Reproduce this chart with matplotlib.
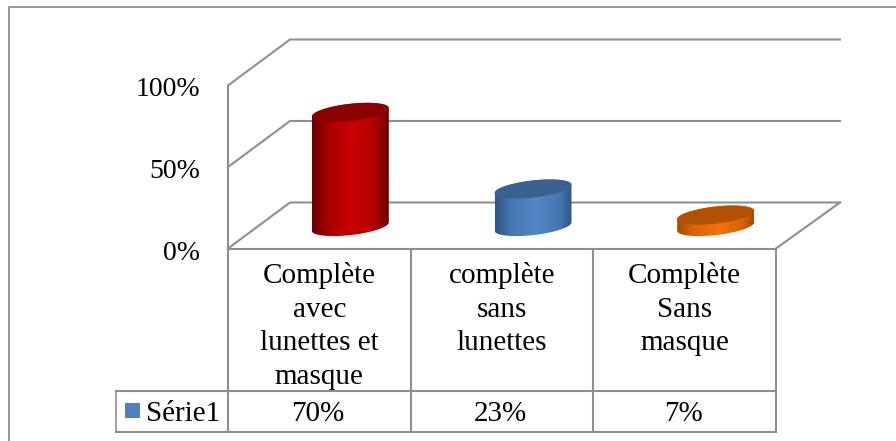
import matplotlib
matplotlib.use("Agg")
import matplotlib.pyplot as plt
import numpy as np
from matplotlib.patches import Polygon, Rectangle
from matplotlib.colors import LinearSegmentedColormap, to_rgb

plt.rcParams['font.family'] = ['Liberation Serif', 'DejaVu Serif']

categories = ["Complète\navec\nlunettes et\nmasque", "complète\nsans\nlunettes", "Complète\nSans\nmasque"]
values = [70, 23, 7]
value_labels = ["70%", "23%", "7%"]
yticks = [0, 50, 100]
ytick_labels = ["0%", "50%", "100%"]
series_name = "Série1"
# edge, centre, lid colours of each cylinder
shades = [("#660000", "#cc0000", "#8b0000"),
          ("#2c5684", "#5287c7", "#3b628f"),
          ("#a04c00", "#f57208", "#b25200")]

GRID = "#8f8f8f"
LW = 1.5
FS = 20
FS_TABLE = 21

fig = plt.figure(figsize=(8.96, 4.41), dpi=100)
ax = fig.add_axes([0, 0, 1, 1])  # axes in pixels, y downwards

# 3d box geometry
x0, x1 = 228, 776    # front floor edge
bx0, bx1 = 290, 840  # back floor edge
fy0, by0 = 248.5, 202.5
px_per_pct = 1.63
col_w = (x1 - x0) / len(values)


def line(xs, ys, lw=LW):
    ax.plot(xs, ys, color=GRID, lw=lw, solid_capstyle="projecting", zorder=1)


# outer frame
line([8.5, 8.5, 896], [441, 6.5, 6.5], 1.3)

# walls, floor and gridlines
for t in yticks:
    h = t * px_per_pct
    line([x0, bx0, bx1], [fy0 - h, by0 - h, by0 - h])
line([x0, x0], [fy0, fy0 - 100 * px_per_pct])
line([x1, bx1], [fy0, by0])

for t, lab in zip(yticks, ytick_labels):
    ax.text(200, fy0 + 11 - t * px_per_pct, lab, ha="right", va="baseline", fontsize=FS, color="black")


def ellipse(cx, cy, a=38.5, b=8.6, k=4.2):
    t = np.linspace(0, 2 * np.pi, 200, endpoint=False)
    return cx + a * np.cos(t), cy + b * np.sin(t) - k * np.cos(t)


def shade_map(name, edge, mid):
    e, m = np.array(to_rgb(edge)), np.array(to_rgb(mid))
    side = e + (m - e) * 0.65
    return LinearSegmentedColormap.from_list(name, [(0, e), (0.2, side), (0.55, m), (0.85, side), (1, e)])


# cylinders
base_y = 226.5
for i, (v, (edge, mid, lid)) in enumerate(zip(values, shades)):
    cx = x0 + col_w * (i + 0.5) + 31
    top_y = base_y - v * px_per_pct
    xb, yb = ellipse(cx, base_y)
    xt, yt = ellipse(cx, top_y)
    # body outline: lower half of the base, upper half of the lid
    n = len(xb) // 2
    body = np.vstack([np.column_stack([xb[:n + 1], yb[:n + 1]]),
                      np.column_stack([xt[n:], yt[n:]])])
    clip = Polygon(body, closed=True, transform=ax.transData, fc="none", ec="none")
    ax.add_patch(clip)
    grad = np.linspace(0, 1, 256).reshape(1, -1)
    im = ax.imshow(grad, cmap=shade_map("c%d" % i, edge, mid),
                   extent=[cx - 38.5, cx + 38.5, base_y + 15, top_y - 15],
                   aspect="auto", zorder=3, interpolation="bilinear")
    im.set_clip_path(clip)
    ax.fill(xt, yt, color=lid, lw=0, zorder=4)

# data table
ty0, ty1, ty2 = 249, 390.5, 432
lx = 115.5
line([x0, x0], [ty0, ty2])
line([x0, x1], [ty0, ty0])
line([lx, x1], [ty1, ty1])
line([lx, x1], [ty2, ty2])
line([lx, lx], [ty1, ty2], 1.2)
for i in range(1, len(values) + 1):
    line([x0 + col_w * i] * 2, [ty0, ty2])

line_step = 33.6
for i, (c, vl) in enumerate(zip(categories, value_labels)):
    cx = x0 + col_w * (i + 0.5)
    for j, part in enumerate(c.split("\n")):
        ax.text(cx, 283 + j * line_step, part, ha="center", va="baseline", fontsize=FS_TABLE, color="black")
    ax.text(cx - 1.5, 421, vl, ha="center", va="baseline", fontsize=FS_TABLE, color="black")

ax.add_patch(Rectangle((125, 403), 14.5, 15, fc="#4f81bd", ec="none", zorder=3))
ax.text(146, 421, series_name, ha="left", va="baseline", fontsize=FS_TABLE, color="black")

ax.set_xlim(0, 896)
ax.set_ylim(441, 0)
ax.axis("off")

fig.savefig("out.png", dpi=100, facecolor="white")
